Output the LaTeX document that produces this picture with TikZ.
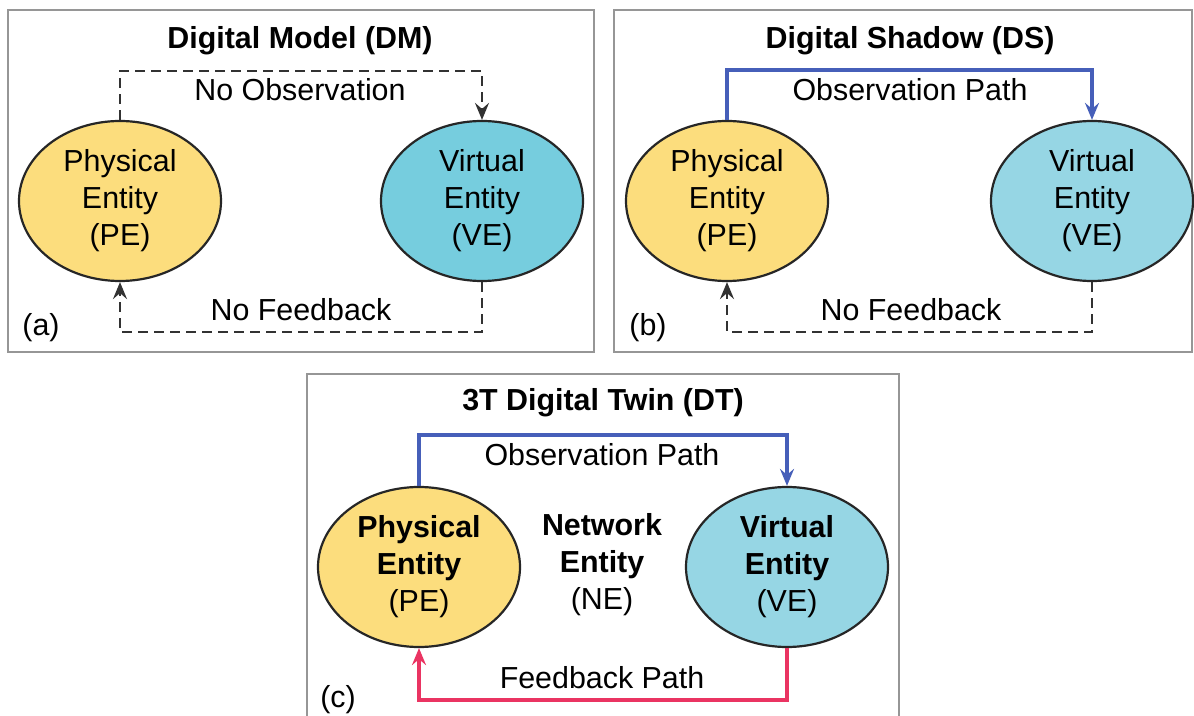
\documentclass[tikz,border=0pt]{standalone}
\usepackage{fontspec}
\setmainfont{Liberation Sans}
\usetikzlibrary{shapes.geometric,arrows.meta}
\definecolor{peyel}{RGB}{252,221,125}
\definecolor{veA}{RGB}{118,205,222}
\definecolor{veB}{RGB}{150,214,228}
\definecolor{obsblue}{RGB}{70,95,185}
\definecolor{fbred}{RGB}{234,52,98}
\definecolor{boxgray}{RGB}{150,150,150}
\definecolor{dashgray}{RGB}{50,50,50}
\tikzset{
  txt/.style={font=\fontsize{15.2}{18.5}\selectfont, inner sep=0pt, align=center},
  ttl/.style={font=\fontsize{15.2}{18.5}\selectfont\bfseries, inner sep=0pt},
  ent/.style={ellipse, draw=black!85, line width=1.1pt, minimum width=101pt, minimum height=80pt, inner sep=0pt, align=center, font=\fontsize{15.2}{18.5}\selectfont},
  panel/.style={draw=boxgray, line width=1pt},
  tipS/.style={-{Stealth[length=8.5pt,width=7pt,inset=3pt]}},
  nopath/.style={draw=dashgray, line width=1.1pt, dash pattern=on 5pt off 3pt, tipS},
  obspath/.style={draw=obsblue, line width=1.6pt, tipS},
  fbpath/.style={draw=fbred, line width=1.6pt, tipS}
}
\begin{document}
\begin{tikzpicture}[x=0.5pt,y=-0.5pt]
\useasboundingbox (0,0) rectangle (1194,716);
\fill[white] (0,0) rectangle (1194,716);
% ---------- panel (a)
\draw[panel] (8,10) rectangle (594,352);
\node[ttl] (tA) at (300,41) {Digital Model (DM)};
\node[ent, fill=peyel] (peA) at (120,201) {Physical\\Entity\\(PE)};
\node[ent, fill=veA] (veA) at (482,201) {Virtual\\Entity\\(VE)};
\coordinate (topA) at (300,71);
\coordinate (botA) at (300,332);
\draw[nopath] (peA.north) -- (peA.north |- topA) -- (veA.north |- topA) -- (veA.north);
\draw[nopath] (veA.south) -- (veA.south |- botA) -- (peA.south |- botA) -- (peA.south);
\node[txt] (lobsA) at (300,90) {No Observation};
\node[txt] (lfbA) at (301,310) {No Feedback};
\node[txt] (labA) at (41,328) {(a)};
% ---------- panel (b)
\draw[panel] (614,10) rectangle (1192,352);
\node[ttl] (tB) at (910,41) {Digital Shadow (DS)};
\node[ent, fill=peyel] (peB) at (727,201) {Physical\\Entity\\(PE)};
\node[ent, fill=veB] (veB) at (1092,201) {Virtual\\Entity\\(VE)};
\coordinate (topB) at (910,70);
\coordinate (botB) at (910,332);
\draw[obspath] (peB.north) -- (peB.north |- topB) -- (veB.north |- topB) -- (veB.north);
\draw[nopath] (veB.south) -- (veB.south |- botB) -- (peB.south |- botB) -- (peB.south);
\node[txt] (lobsB) at (910,90) {Observation Path};
\node[txt] (lfbB) at (911,310) {No Feedback};
\node[txt] (labB) at (648,328) {(b)};
% ---------- panel (c)
\draw[panel] (307,720) -- (307,374) -- (899,374) -- (899,720);
\node[ttl] (tC) at (603,403) {3T Digital Twin (DT)};
\node[ent, fill=peyel] (peC) at (419,567) {\textbf{Physical}\\\textbf{Entity}\\(PE)};
\node[ent, fill=veB] (veC) at (787,567) {\textbf{Virtual}\\\textbf{Entity}\\(VE)};
\node[txt] (neC) at (602,565) {\textbf{Network}\\\textbf{Entity}\\(NE)};
\coordinate (topC) at (603,435);
\coordinate (botC) at (603,700);
\draw[obspath] (peC.north) -- (peC.north |- topC) -- (veC.north |- topC) -- (veC.north);
\draw[fbpath] (veC.south) -- (veC.south |- botC) -- (peC.south |- botC) -- (peC.south);
\node[txt] (lobsC) at (602,455) {Observation Path};
\node[txt] (lfbC) at (602,678) {Feedback Path};
\node[txt] (labC) at (338,700) {(c)};
\end{tikzpicture}
\end{document}
